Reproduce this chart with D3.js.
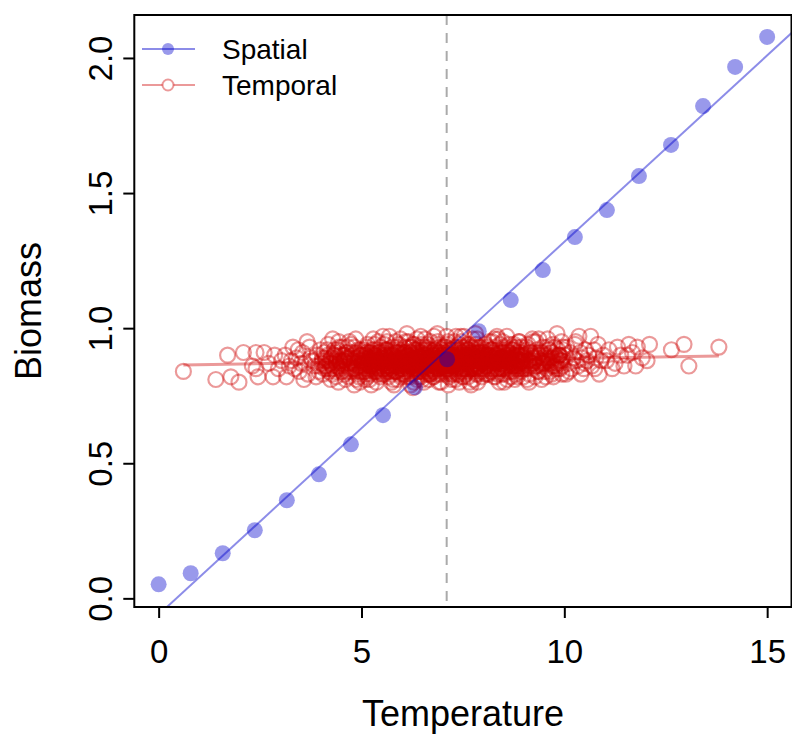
<!DOCTYPE html>
<html lang="en">
<head>
<meta charset="UTF-8">
<title>Biomass vs Temperature</title>
<script src="https://d3js.org/d3.v7.min.js"></script>
<style>
  body { margin: 0; background: #fff; }
  svg text { font-family: "Liberation Sans", Arial, sans-serif; fill: #000; }
</style>
</head>
<body>
<div id="chart"></div>
<script>
// tick values and the reference line
const xTicks = [0, 5, 10, 15]
const yTicks = [0, 0.5, 1, 1.5, 2]
const meanTemp = 7.1
const legendLabels = ["Spatial", "Temporal"]

// spatial series
const spatialTemp = [0, 0.79, 1.58, 2.37, 3.16, 3.95, 4.74, 5.53, 6.32, 7.11,
    7.89, 8.68, 9.47, 10.26, 11.05, 11.84, 12.63, 13.42, 14.21, 15]
const spatialBiomass = [0.052, 0.093, 0.167, 0.252, 0.363, 0.459, 0.570, 0.678, 0.781, 0.885,
    0.989, 1.104, 1.215, 1.337, 1.437, 1.563, 1.678, 1.822, 1.967, 2.078]

// temporal series [temperature, biomass], estimated from the cloud
const temporalPoints = [
    [0.61,0.84],[1.41,0.81],[1.70,0.90],[1.78,0.82],[1.98,0.80],
    [2.09,0.91],[2.40,0.91],[2.40,0.85],[2.60,0.91],[2.45,0.82],[2.82,0.82],[2.86,0.90],[2.31,0.86],[2.71,0.87],[2.95,0.85],
    [3.15,0.82],[3.31,0.93],[3.03,0.88],[3.22,0.86],[3.40,0.89],[3.47,0.84],[3.55,0.91],[3.61,0.87],[3.68,0.83],[3.72,0.93],
    [3.79,0.88],[3.84,0.86],[3.90,0.90],[3.95,0.84],[3.12,0.90],[3.36,0.85],[3.58,0.81],[3.66,0.95],[3.88,0.82],[3.99,0.92],
    [3.27,0.88],[3.51,0.87],[3.75,0.89],[3.93,0.86],[3.44,0.92],
    [4.02,0.87],[4.05,0.83],[4.08,0.91],[4.11,0.89],[4.15,0.85],[4.18,0.94],[4.21,0.88],[4.24,0.81],[4.27,0.86],[4.29,0.96],
    [4.32,0.90],[4.35,0.84],[4.38,0.87],[4.41,0.92],[4.43,0.80],[4.46,0.88],[4.49,0.85],[4.52,0.93],[4.54,0.87],[4.57,0.83],
    [4.60,0.89],[4.62,0.91],[4.65,0.86],[4.68,0.82],[4.70,0.95],[4.73,0.88],[4.75,0.84],[4.78,0.90],[4.80,0.87],[4.83,0.93],
    [4.85,0.85],[4.88,0.81],[4.90,0.89],[4.92,0.92],[4.95,0.86],[4.97,0.84],[4.99,0.90],[4.13,0.86],[4.26,0.89],[4.37,0.82],
    [4.44,0.95],[4.56,0.90],[4.63,0.84],[4.71,0.87],[4.82,0.79],[4.87,0.91],[4.94,0.88],[4.19,0.84],[4.33,0.92],[4.51,0.86],
    [4.66,0.93],[4.76,0.85],[4.91,0.83],[4.58,0.88],[4.47,0.87],
    [4.04,0.89],[4.09,0.85],[4.16,0.92],[4.22,0.87],[4.28,0.83],[4.34,0.90],[4.39,0.86],[4.45,0.93],[4.50,0.84],[4.55,0.88],
    [4.61,0.81],[4.64,0.91],[4.69,0.87],[4.74,0.94],[4.79,0.85],[4.84,0.89],[4.89,0.86],[4.93,0.82],[4.98,0.92],[4.12,0.88],
    [4.31,0.85],[4.48,0.90],[4.67,0.89],[4.86,0.96],[4.96,0.80],
    [4.03,0.88],[4.10,0.86],[4.17,0.90],[4.23,0.85],[4.30,0.88],[4.36,0.91],[4.42,0.86],[4.48,0.88],[4.53,0.84],[4.59,0.90],
    [4.64,0.87],[4.70,0.85],[4.77,0.91],[4.81,0.88],[4.86,0.84],[4.91,0.87],[4.95,0.90],[4.40,0.89],[4.25,0.87],[4.72,0.89],
    [5.01,0.88],[5.03,0.84],[5.05,0.92],[5.07,0.86],[5.09,0.81],[5.11,0.90],[5.13,0.87],[5.15,0.94],[5.17,0.85],[5.19,0.89],
    [5.21,0.83],[5.23,0.91],[5.25,0.88],[5.27,0.86],[5.29,0.96],[5.31,0.84],[5.33,0.89],[5.35,0.87],[5.37,0.80],[5.39,0.92],
    [5.41,0.88],[5.43,0.85],[5.45,0.90],[5.47,0.93],[5.49,0.86],[5.51,0.83],[5.53,0.89],[5.55,0.87],[5.57,0.91],[5.59,0.84],
    [5.61,0.88],[5.63,0.95],[5.65,0.86],[5.67,0.82],[5.69,0.97],[5.71,0.89],[5.73,0.87],[5.75,0.85],[5.77,0.92],[5.79,0.88],
    [5.81,0.84],[5.83,0.90],[5.85,0.86],[5.87,0.93],[5.89,0.81],[5.91,0.88],[5.93,0.91],[5.95,0.85],[5.97,0.87],[5.99,0.89],
    [5.02,0.90],[5.06,0.87],[5.12,0.83],[5.16,0.89],[5.22,0.86],[5.26,0.92],[5.32,0.88],[5.36,0.85],[5.42,0.91],[5.46,0.82],
    [5.52,0.88],[5.56,0.94],[5.62,0.86],[5.66,0.89],[5.72,0.83],[5.76,0.90],[5.82,0.87],[5.86,0.84],[5.92,0.92],[5.96,0.86],
    [5.04,0.85],[5.14,0.91],[5.24,0.79],[5.34,0.90],[5.44,0.87],[5.54,0.85],[5.64,0.92],[5.74,0.88],[5.84,0.95],[5.94,0.83],
    [5.08,0.88],[5.18,0.86],[5.28,0.89],[5.38,0.84],[5.48,0.88],[5.58,0.90],[5.68,0.86],[5.78,0.81],[5.88,0.89],[5.98,0.87],
    [5.02,0.86],[5.05,0.89],[5.10,0.84],[5.13,0.93],[5.18,0.88],[5.20,0.81],[5.24,0.90],[5.28,0.85],[5.31,0.92],[5.35,0.88],
    [5.38,0.86],[5.41,0.95],[5.45,0.84],[5.48,0.89],[5.52,0.91],[5.55,0.83],[5.58,0.87],[5.61,0.92],[5.65,0.85],[5.68,0.90],
    [5.71,0.88],[5.74,0.80],[5.78,0.93],[5.81,0.86],[5.84,0.89],[5.87,0.84],[5.90,0.91],[5.93,0.87],[5.96,0.96],[5.99,0.85],
    [5.07,0.91],[5.15,0.82],[5.22,0.88],[5.33,0.94],[5.40,0.83],[5.47,0.87],[5.53,0.97],[5.60,0.89],[5.67,0.84],[5.73,0.91],
    [5.80,0.79],[5.86,0.88],[5.92,0.94],[5.97,0.82],[5.27,0.87],
    [5.03,0.87],[5.08,0.90],[5.12,0.85],[5.16,0.88],[5.21,0.91],[5.25,0.86],[5.30,0.89],[5.34,0.84],[5.39,0.88],[5.43,0.91],
    [5.46,0.86],[5.50,0.89],[5.54,0.87],[5.59,0.92],[5.63,0.85],[5.66,0.88],[5.70,0.86],[5.75,0.90],[5.79,0.87],[5.83,0.84],
    [5.88,0.91],[5.91,0.86],[5.95,0.89],[5.98,0.88],[5.06,0.84],[5.14,0.89],[5.19,0.87],[5.29,0.90],[5.37,0.86],[5.44,0.88],
    [5.51,0.85],[5.57,0.89],[5.64,0.90],[5.69,0.84],[5.77,0.88],[5.82,0.91],[5.89,0.86],[5.93,0.88],[5.26,0.87],[5.60,0.86],
    [6.01,0.87],[6.03,0.92],[6.04,0.84],[6.06,0.89],[6.08,0.86],[6.09,0.95],[6.11,0.88],[6.12,0.82],[6.14,0.90],[6.16,0.87],
    [6.17,0.85],[6.19,0.91],[6.21,0.88],[6.22,0.83],[6.24,0.93],[6.26,0.86],[6.27,0.89],[6.29,0.80],[6.31,0.87],[6.32,0.92],
    [6.34,0.85],[6.36,0.89],[6.37,0.96],[6.39,0.87],[6.41,0.84],[6.42,0.90],[6.44,0.88],[6.46,0.82],[6.47,0.91],[6.49,0.86],
    [6.51,0.89],[6.52,0.93],[6.54,0.85],[6.56,0.88],[6.57,0.83],[6.59,0.90],[6.61,0.87],[6.62,0.94],[6.64,0.86],[6.66,0.81],
    [6.67,0.89],[6.69,0.88],[6.71,0.92],[6.72,0.85],[6.74,0.87],[6.76,0.90],[6.77,0.84],[6.79,0.97],[6.81,0.88],[6.82,0.86],
    [6.84,0.91],[6.86,0.83],[6.87,0.89],[6.89,0.87],[6.91,0.93],[6.92,0.85],[6.94,0.88],[6.96,0.80],[6.97,0.90],[6.99,0.86],
    [6.02,0.89],[6.07,0.83],[6.13,0.86],[6.18,0.93],[6.23,0.88],[6.28,0.85],[6.33,0.91],[6.38,0.82],[6.43,0.87],[6.48,0.94],
    [6.53,0.86],[6.58,0.89],[6.63,0.84],[6.68,0.91],[6.73,0.87],[6.78,0.82],[6.83,0.88],[6.88,0.95],[6.93,0.86],[6.98,0.89],
    [6.05,0.91],[6.15,0.85],[6.25,0.90],[6.35,0.87],[6.45,0.84],[6.55,0.92],[6.65,0.88],[6.75,0.85],[6.85,0.90],[6.95,0.83],
    [6.10,0.88],[6.20,0.86],[6.30,0.94],[6.40,0.89],[6.50,0.81],[6.60,0.88],[6.70,0.86],[6.80,0.92],[6.90,0.88],[6.00,0.85],
    [6.12,0.98],[6.27,0.78],[6.44,0.93],[6.61,0.84],[6.78,0.90],[6.93,0.91],[6.36,0.86],[6.52,0.87],[6.69,0.83],[6.86,0.87],
    [6.01,0.90],[6.04,0.86],[6.07,0.93],[6.10,0.84],[6.13,0.88],[6.16,0.95],[6.19,0.82],[6.22,0.89],[6.25,0.87],[6.28,0.92],
    [6.31,0.85],[6.34,0.88],[6.37,0.81],[6.40,0.91],[6.43,0.86],[6.46,0.97],[6.49,0.89],[6.52,0.84],[6.55,0.90],[6.58,0.87],
    [6.61,0.93],[6.64,0.83],[6.67,0.88],[6.70,0.95],[6.73,0.86],[6.76,0.82],[6.79,0.89],[6.82,0.92],[6.85,0.85],[6.88,0.88],
    [6.91,0.80],[6.94,0.91],[6.97,0.87],[6.03,0.83],[6.09,0.91],[6.15,0.87],[6.21,0.79],[6.27,0.94],[6.33,0.88],[6.39,0.84],
    [6.45,0.90],[6.51,0.86],[6.57,0.96],[6.63,0.89],[6.69,0.83],[6.75,0.91],[6.81,0.86],[6.87,0.98],[6.93,0.84],[6.99,0.90],
    [6.18,0.86],[6.36,0.92],[6.54,0.80],[6.72,0.88],[6.90,0.94],
    [6.02,0.88],[6.06,0.85],[6.11,0.90],[6.14,0.87],[6.19,0.84],[6.23,0.91],[6.26,0.88],[6.31,0.86],[6.35,0.90],[6.38,0.87],
    [6.42,0.85],[6.47,0.89],[6.50,0.92],[6.54,0.86],[6.59,0.88],[6.62,0.85],[6.66,0.90],[6.71,0.87],[6.74,0.89],[6.78,0.86],
    [6.83,0.91],[6.86,0.88],[6.90,0.85],[6.95,0.89],[6.98,0.87],[6.04,0.91],[6.09,0.87],[6.16,0.89],[6.21,0.86],[6.29,0.88],
    [6.33,0.84],[6.41,0.89],[6.46,0.87],[6.53,0.90],[6.57,0.86],[6.64,0.88],[6.68,0.92],[6.76,0.87],[6.81,0.84],[6.88,0.89],
    [6.92,0.87],[6.97,0.92],[6.12,0.86],[6.48,0.88],[6.84,0.86],
    [7.01,0.88],[7.02,0.85],[7.04,0.91],[7.05,0.87],[7.07,0.83],[7.09,0.90],[7.10,0.88],[7.12,0.94],[7.14,0.86],[7.15,0.89],
    [7.17,0.84],[7.19,0.92],[7.20,0.88],[7.22,0.81],[7.24,0.87],[7.25,0.90],[7.27,0.86],[7.29,0.95],[7.30,0.88],[7.32,0.85],
    [7.34,0.91],[7.35,0.87],[7.37,0.83],[7.39,0.89],[7.40,0.92],[7.42,0.86],[7.44,0.88],[7.45,0.97],[7.47,0.85],[7.49,0.90],
    [7.50,0.87],[7.52,0.82],[7.54,0.89],[7.55,0.93],[7.57,0.86],[7.59,0.88],[7.60,0.84],[7.62,0.91],[7.64,0.87],[7.65,0.89],
    [7.67,0.80],[7.69,0.88],[7.70,0.93],[7.72,0.86],[7.74,0.90],[7.75,0.85],[7.77,0.88],[7.79,0.92],[7.80,0.87],[7.82,0.83],
    [7.84,0.89],[7.85,0.96],[7.87,0.86],[7.89,0.88],[7.90,0.91],[7.92,0.84],[7.94,0.89],[7.95,0.87],[7.97,0.82],[7.99,0.90],
    [7.03,0.93],[7.08,0.86],[7.13,0.89],[7.18,0.85],[7.23,0.92],[7.28,0.88],[7.33,0.84],[7.38,0.90],[7.43,0.87],[7.48,0.93],
    [7.53,0.85],[7.58,0.89],[7.63,0.82],[7.68,0.91],[7.73,0.88],[7.78,0.86],[7.83,0.94],[7.88,0.89],[7.93,0.85],[7.98,0.88],
    [7.06,0.89],[7.16,0.87],[7.26,0.83],[7.36,0.93],[7.46,0.88],[7.56,0.86],[7.66,0.90],[7.76,0.81],[7.86,0.91],[7.96,0.87],
    [7.11,0.85],[7.21,0.90],[7.31,0.87],[7.41,0.80],[7.51,0.91],[7.61,0.88],[7.71,0.85],[7.81,0.98],[7.91,0.88],[7.00,0.86],
    [7.14,0.79],[7.33,0.97],[7.47,0.84],[7.62,0.94],[7.79,0.85],[7.94,0.93],[7.24,0.89],[7.57,0.90],[7.71,0.88],[7.87,0.83],
    [7.02,0.89],[7.05,0.84],[7.08,0.92],[7.11,0.87],[7.14,0.95],[7.17,0.86],[7.20,0.83],[7.23,0.90],[7.26,0.88],[7.29,0.93],
    [7.32,0.81],[7.35,0.89],[7.38,0.86],[7.41,0.94],[7.44,0.85],[7.47,0.91],[7.50,0.88],[7.53,0.97],[7.56,0.83],[7.59,0.90],
    [7.62,0.87],[7.65,0.92],[7.68,0.85],[7.71,0.89],[7.74,0.96],[7.77,0.84],[7.80,0.91],[7.83,0.87],[7.86,0.80],[7.89,0.93],
    [7.92,0.88],[7.95,0.85],[7.98,0.90],[7.04,0.86],[7.10,0.97],[7.16,0.82],[7.22,0.91],[7.28,0.86],[7.34,0.89],[7.40,0.83],
    [7.46,0.95],[7.52,0.88],[7.58,0.85],[7.64,0.92],[7.70,0.79],[7.76,0.90],[7.82,0.93],[7.88,0.86],[7.94,0.91],[7.99,0.84],
    [7.13,0.90],[7.31,0.87],[7.49,0.82],[7.67,0.94],[7.85,0.88],
    [7.01,0.89],[7.05,0.86],[7.09,0.91],[7.12,0.88],[7.17,0.85],[7.21,0.89],[7.25,0.87],[7.30,0.92],[7.33,0.86],[7.37,0.89],
    [7.42,0.84],[7.45,0.88],[7.50,0.90],[7.54,0.87],[7.58,0.92],[7.61,0.85],[7.66,0.88],[7.70,0.90],[7.73,0.86],[7.78,0.89],
    [7.81,0.87],[7.86,0.92],[7.90,0.86],[7.93,0.89],[7.97,0.87],[7.03,0.87],[7.08,0.93],[7.15,0.88],[7.19,0.86],[7.27,0.90],
    [7.36,0.85],[7.40,0.89],[7.48,0.87],[7.55,0.89],[7.63,0.88],[7.69,0.86],[7.75,0.91],[7.84,0.85],[7.91,0.90],[7.96,0.88],
    [7.23,0.87],[7.44,0.91],[7.60,0.89],[7.80,0.88],[7.12,0.85],
    [8.01,0.89],[8.03,0.85],[8.05,0.92],[8.07,0.87],[8.09,0.83],[8.11,0.90],[8.13,0.88],[8.15,0.95],[8.17,0.86],[8.19,0.89],
    [8.21,0.84],[8.23,0.91],[8.25,0.88],[8.27,0.82],[8.29,0.93],[8.31,0.87],[8.33,0.89],[8.35,0.85],[8.37,0.96],[8.39,0.88],
    [8.41,0.86],[8.43,0.91],[8.45,0.83],[8.47,0.89],[8.49,0.87],[8.51,0.93],[8.53,0.85],[8.55,0.88],[8.57,0.90],[8.59,0.81],
    [8.61,0.89],[8.63,0.86],[8.65,0.94],[8.67,0.88],[8.69,0.84],[8.71,0.90],[8.73,0.87],[8.75,0.92],[8.77,0.85],[8.79,0.89],
    [8.81,0.83],[8.83,0.91],[8.85,0.88],[8.87,0.86],[8.89,0.95],[8.91,0.87],[8.93,0.84],[8.95,0.90],[8.97,0.88],[8.99,0.82],
    [8.02,0.87],[8.06,0.94],[8.12,0.85],[8.16,0.90],[8.22,0.88],[8.26,0.86],[8.32,0.92],[8.36,0.83],[8.42,0.89],[8.46,0.87],
    [8.52,0.80],[8.56,0.91],[8.62,0.88],[8.66,0.85],[8.72,0.93],[8.76,0.89],[8.82,0.86],[8.86,0.90],[8.92,0.92],[8.96,0.85],
    [8.04,0.90],[8.14,0.83],[8.24,0.89],[8.34,0.97],[8.44,0.88],[8.54,0.86],[8.64,0.91],[8.74,0.84],[8.84,0.88],[8.94,0.93],
    [8.08,0.86],[8.18,0.92],[8.28,0.88],[8.38,0.84],[8.48,0.95],[8.58,0.88],[8.68,0.82],[8.78,0.90],[8.88,0.87],[8.98,0.89],
    [8.02,0.91],[8.06,0.86],[8.10,0.93],[8.14,0.88],[8.18,0.84],[8.22,0.95],[8.26,0.89],[8.30,0.82],[8.34,0.90],[8.38,0.87],
    [8.42,0.94],[8.46,0.85],[8.50,0.91],[8.54,0.88],[8.58,0.97],[8.62,0.84],[8.66,0.89],[8.70,0.92],[8.74,0.86],[8.78,0.81],
    [8.82,0.93],[8.86,0.88],[8.90,0.85],[8.94,0.91],[8.98,0.87],[8.04,0.83],[8.12,0.90],[8.20,0.87],[8.28,0.96],[8.36,0.85],
    [8.44,0.89],[8.52,0.83],[8.60,0.91],[8.68,0.87],[8.76,0.94],[8.84,0.82],[8.92,0.90],[8.08,0.88],[8.24,0.92],[8.40,0.80],
    [8.56,0.89],[8.72,0.86],[8.88,0.95],[8.96,0.88],[8.32,0.88],
    [8.01,0.88],[8.05,0.91],[8.09,0.86],[8.13,0.89],[8.17,0.87],[8.21,0.92],[8.25,0.85],[8.30,0.89],[8.33,0.87],[8.37,0.90],
    [8.41,0.88],[8.46,0.85],[8.49,0.91],[8.53,0.88],[8.57,0.86],[8.61,0.90],[8.65,0.87],[8.70,0.89],[8.73,0.92],[8.77,0.87],
    [8.81,0.89],[8.85,0.85],[8.89,0.90],[8.93,0.88],[8.97,0.86],[8.11,0.88],[8.27,0.90],[8.43,0.87],[8.55,0.92],[8.67,0.88],
    [8.79,0.86],[8.91,0.91],[8.19,0.85],[8.51,0.89],[8.83,0.88],
    [9.02,0.90],[9.05,0.85],[9.08,0.92],[9.11,0.88],[9.14,0.83],[9.17,0.91],[9.20,0.87],[9.23,0.95],[9.26,0.89],[9.29,0.86],
    [9.32,0.92],[9.35,0.84],[9.38,0.90],[9.41,0.88],[9.44,0.81],[9.47,0.93],[9.50,0.87],[9.53,0.90],[9.56,0.85],[9.59,0.96],
    [9.62,0.88],[9.65,0.84],[9.68,0.91],[9.71,0.89],[9.74,0.86],[9.77,0.93],[9.80,0.87],[9.82,0.98],[9.85,0.85],[9.88,0.90],
    [9.91,0.88],[9.94,0.83],[9.97,0.92],[9.04,0.87],[9.10,0.94],[9.16,0.86],[9.22,0.89],[9.28,0.82],[9.34,0.91],[9.40,0.87],
    [9.46,0.89],[9.52,0.84],[9.58,0.93],[9.64,0.89],[9.70,0.86],[9.76,0.90],[9.84,0.92],[9.90,0.85],[9.96,0.89],[9.13,0.80],
    [9.37,0.96],[9.55,0.88],[9.73,0.82],[9.93,0.95],[9.25,0.88],
    [9.03,0.88],[9.07,0.93],[9.12,0.85],[9.18,0.90],[9.24,0.87],[9.30,0.95],[9.36,0.84],[9.42,0.91],[9.48,0.88],[9.54,0.82],
    [9.60,0.92],[9.66,0.87],[9.72,0.94],[9.78,0.85],[9.86,0.90],[9.92,0.87],[9.98,0.93],[9.09,0.81],[9.21,0.96],[9.33,0.89],
    [9.45,0.86],[9.57,0.90],[9.69,0.83],[9.81,0.89],[9.95,0.86],
    [9.04,0.89],[9.11,0.86],[9.18,0.91],[9.27,0.88],[9.33,0.86],[9.41,0.90],[9.49,0.87],[9.57,0.89],[9.63,0.92],[9.70,0.88],
    [9.79,0.86],[9.87,0.90],[9.94,0.88],[9.15,0.88],[9.52,0.87],
    [10.04,0.83],[10.36,0.97],[10.41,0.83],[10.65,0.97],[10.86,0.83],
    [10.02,0.90],[10.06,0.93],[10.10,0.87],[10.14,0.91],[10.18,0.85],[10.22,0.89],[10.26,0.94],[10.30,0.88],[10.34,0.86],[10.39,0.91],
    [10.44,0.89],[10.48,0.85],[10.52,0.92],[10.56,0.88],[10.60,0.90],[10.68,0.86],[10.73,0.92],[10.78,0.89],[10.83,0.94],[10.91,0.88],
    [10.96,0.90],[10.12,0.84],[10.28,0.95],[10.50,0.87],[10.75,0.85],
    [11.10,0.92],[11.18,0.85],[11.39,0.90],[11.55,0.90],[11.59,0.94],[11.76,0.86],[11.80,0.93],
    [11.04,0.88],[11.25,0.87],[11.31,0.93],[11.47,0.86],[11.68,0.91],[11.92,0.89],
    [12.04,0.88],[12.10,0.94],[12.64,0.92],[12.95,0.94],
    [13.07,0.86],[13.81,0.93]
]

const W = 792, H = 735
const box = {left: 134.3, right: 791.5, top: 15, bottom: 607}

const blue = "rgba(0,0,205,0.4)"
const blueLine = "rgba(0,0,205,0.45)"
const red = "rgba(205,0,0,0.4)"

var svg = d3.select("#chart").append("svg")
    .attr("width", W)
    .attr("height", H)

var x = d3.scaleLinear().domain([-0.6, 15.6]).range([box.left, box.right])
var y = d3.scaleLinear().domain([-0.032, 2.159]).range([box.bottom, box.top])

// least squares fit, used for both trend lines
function fit(xs, ys) {
    const mx = d3.mean(xs), my = d3.mean(ys)
    let sxy = 0, sxx = 0
    xs.forEach((v, i) => { sxy += (v - mx) * (ys[i] - my); sxx += (v - mx) * (v - mx) })
    const b = sxy / sxx
    return {a: my - b * mx, b: b}
}

svg.append("clipPath").attr("id", "plotclip")
    .append("rect")
    .attr("x", box.left).attr("y", box.top)
    .attr("width", box.right - box.left).attr("height", box.bottom - box.top)

var plot = svg.append("g").attr("clip-path", "url(#plotclip)")

// dashed reference line
plot.append("line")
    .attr("x1", x(meanTemp)).attr("x2", x(meanTemp))
    .attr("y1", box.top).attr("y2", box.bottom)
    .attr("stroke", "#aaaaaa")
    .attr("stroke-width", 2)
    .attr("stroke-dasharray", "10,8")

// temporal cloud
plot.append("g")
    .selectAll("circle")
    .data(temporalPoints)
    .enter()
    .append("circle")
    .attr("cx", d => x(d[0]))
    .attr("cy", d => y(d[1]))
    .attr("r", 7.5)
    .attr("fill", "none")
    .attr("stroke", red)
    .attr("stroke-width", 2.2)

const tFit = fit(temporalPoints.map(d => d[0]), temporalPoints.map(d => d[1]))
const tExt = d3.extent(temporalPoints, d => d[0])
plot.append("line")
    .attr("x1", x(tExt[0])).attr("x2", x(tExt[1]))
    .attr("y1", y(tFit.a + tFit.b * tExt[0]))
    .attr("y2", y(tFit.a + tFit.b * tExt[1]))
    .attr("stroke", red)
    .attr("stroke-width", 3)

// spatial points and fit
plot.append("g")
    .selectAll("circle")
    .data(spatialTemp)
    .enter()
    .append("circle")
    .attr("cx", d => x(d))
    .attr("cy", (d, i) => y(spatialBiomass[i]))
    .attr("r", 8)
    .attr("fill", blue)

const sFit = fit(spatialTemp, spatialBiomass)
const xd = x.domain()
plot.append("line")
    .attr("x1", x(xd[0])).attr("x2", x(xd[1]))
    .attr("y1", y(sFit.a + sFit.b * xd[0]))
    .attr("y2", y(sFit.a + sFit.b * xd[1]))
    .attr("stroke", blueLine)
    .attr("stroke-width", 2)

// axes
var xAxis = svg.append("g")
    .attr("transform", "translate(0," + box.bottom + ")")
    .call(d3.axisBottom(x).tickValues(xTicks).tickSize(11).tickPadding(22).tickFormat(d3.format("d")))
var yAxis = svg.append("g")
    .attr("transform", "translate(" + box.left + ",0)")
    .call(d3.axisLeft(y).tickValues(yTicks).tickSize(11).tickFormat(d3.format(".1f")))

xAxis.select(".domain").remove()
yAxis.select(".domain").remove()
svg.selectAll(".tick line").attr("stroke", "#000").attr("stroke-width", 2)
xAxis.selectAll("text").style("font-size", "33px").attr("fill", "#000")
yAxis.selectAll("text")
    .style("font-size", "33px")
    .attr("fill", "#000")
    .attr("text-anchor", "middle")
    .attr("x", 0).attr("dy", 0)
    .attr("transform", "translate(-34,0) rotate(-90)")
    .attr("dominant-baseline", "central")

// plot box
svg.append("rect")
    .attr("x", box.left).attr("y", box.top)
    .attr("width", box.right - box.left).attr("height", box.bottom - box.top)
    .attr("fill", "none")
    .attr("stroke", "#000")
    .attr("stroke-width", 2)

// axis titles
svg.append("text")
    .attr("x", 463)
    .attr("y", 726)
    .attr("text-anchor", "middle")
    .style("font-size", "36px")
    .text("Temperature")

svg.append("text")
    .attr("transform", "translate(41," + (box.top + box.bottom) / 2 + ") rotate(-90)")
    .attr("text-anchor", "middle")
    .style("font-size", "36px")
    .text("Biomass")

// legend
var legend = svg.append("g")
legendLabels.forEach((lab, i) => {
    const ly = 49 + i * 36
    const g = legend.append("g")
    g.append("line")
        .attr("x1", 142).attr("x2", 195)
        .attr("y1", ly).attr("y2", ly)
        .attr("stroke", i == 0 ? blueLine : red)
        .attr("stroke-width", 2)
    g.append("circle")
        .attr("cx", 168).attr("cy", ly)
        .attr("r", i == 0 ? 6 : 5.5)
        .attr("fill", i == 0 ? blue : "white")
        .attr("stroke", i == 0 ? "none" : red)
        .attr("stroke-width", 2)
    g.append("text")
        .attr("x", 222).attr("y", ly)
        .attr("dy", "0.35em")
        .style("font-size", "28px")
        .text(lab)
})
</script>
</body>
</html>
